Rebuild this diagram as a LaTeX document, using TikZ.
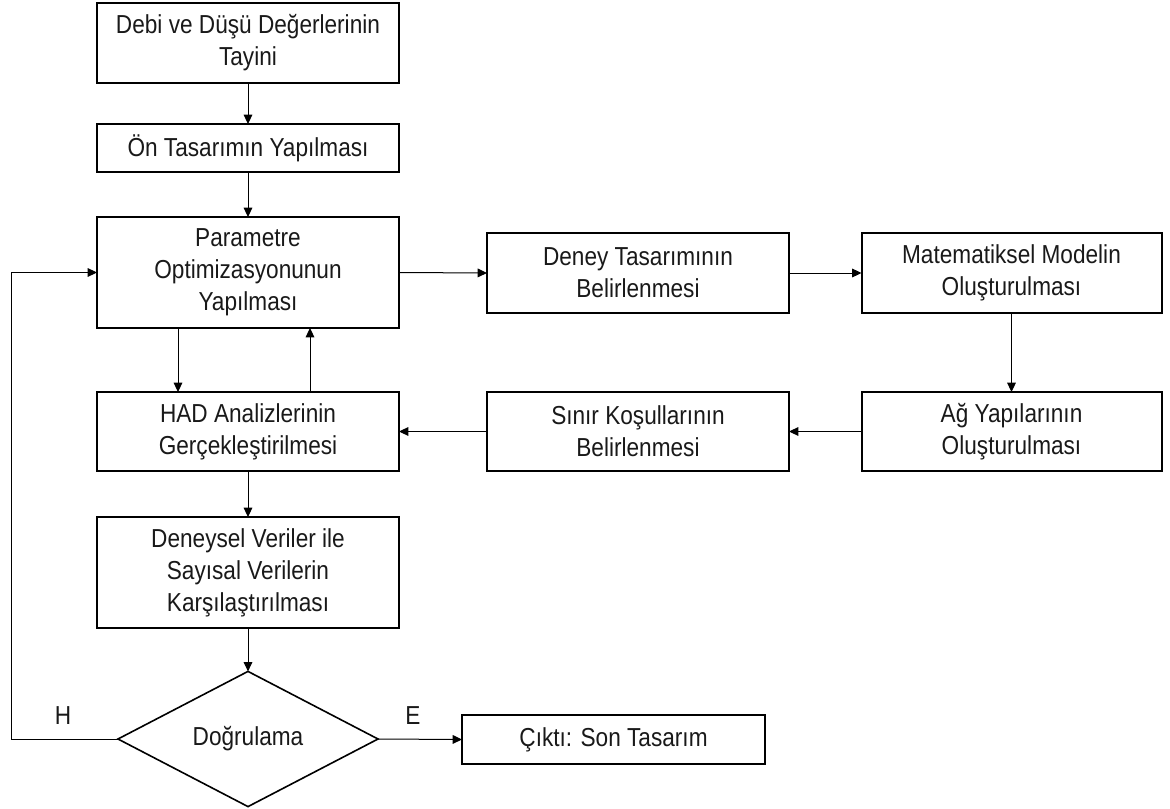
\documentclass[tikz,border=0pt]{standalone}
\usepackage{fontspec}
\setmainfont{Liberation Sans}[FakeStretch=0.87]
\usetikzlibrary{arrows.meta,shapes.geometric}
\begin{document}
\begin{tikzpicture}[x=0.75pt,y=-0.75pt,
  txt/.style={font=\fontsize{19.5}{24}\selectfont, text=black!90},
  box/.style={txt, draw, line width=1.5pt, inner sep=0pt, outer sep=0pt, align=center,
    minimum width=226.5pt},
  arr/.style={line width=0.75pt, -{Triangle[length=7pt,width=6.5pt]}},
  lbl/.style={txt, inner sep=0pt}
]
\useasboundingbox (0,0) rectangle (1170,809);

\node[box, minimum height=60pt] (b1) at (248,43) {Debi ve Düşü Değerlerinin\\Tayini};
\node[box, minimum height=36pt] (b2) at (248,148) {Ön Tasarımın Yapılması};
\node[box, minimum height=83.25pt] (b3) at (248,272.5) {Parametre\\Optimizasyonunun\\Yapılması};
\node[box, minimum height=60pt] (b4) at (638,273) {Deney Tasarımının\\Belirlenmesi};
\node[box, minimum height=60pt, minimum width=225pt] (b5) at (1011.5,273) {Matematiksel Modelin\\Oluşturulması};
\node[box, minimum height=59.25pt, minimum width=225pt] (b6) at (1011.5,431.5) {Ağ Yapılarının\\Oluşturulması};
\node[box, minimum height=59.25pt] (b7) at (638,431.5) {Sınır Koşullarının\\Belirlenmesi};
\node[box, minimum height=59.25pt] (b8) at (248,431.5) {HAD Analizlerinin\\Gerçekleştirilmesi};
\node[box, minimum height=83.25pt] (b9) at (248,572.5) {Deneysel Veriler ile\\Sayısal Verilerin\\Karşılaştırılması};
\node[txt, draw, diamond, line width=1.2pt, minimum width=195pt, minimum height=99pt,
  inner sep=0pt, outer sep=0pt] (dia) at (248,739) {Doğrulama};
\node[box, minimum height=36.75pt, minimum width=227.25pt] (b10) at (613.5,739.5) {Çıktı: Son Tasarım};

\coordinate (lp) at (11,739);
\node[lbl] (hl) at (63,716) {H};
\node[lbl] (el) at (413,716) {E};

\draw[arr] (b1) -- (b2);
\draw[arr] (b2) -- (b3);
\draw[arr] (b3.east) -- (b4.west);
\draw[arr] (b4.east) -- (b5.west);
\draw[arr] (b5) -- (b6);
\draw[arr] (b6.west) -- (b7.east);
\draw[arr] (b7.west) -- (b8.east);
\draw[arr] ([xshift=-52.5pt]b3.south) -- ([xshift=-52.5pt]b8.north);
\draw[arr] ([xshift=46.5pt]b8.north) -- ([xshift=46.5pt]b3.south);
\draw[arr] (b8) -- (b9);
\draw[arr] (b9) -- (dia);
\draw[arr] (dia.east) -- (b10.west);
\draw[arr] (dia.west) -- (lp) |- (b3.west);
\end{tikzpicture}
\end{document}
